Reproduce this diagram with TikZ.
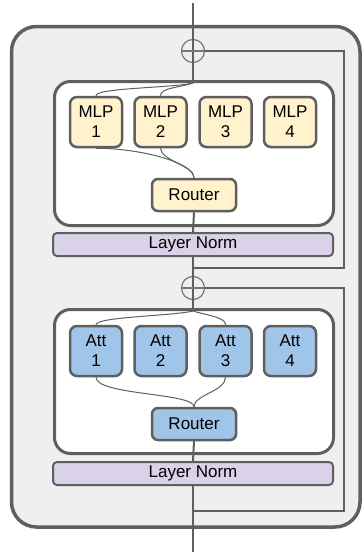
\documentclass[tikz,border=0pt]{standalone}
\usepackage{fontspec}
\setmainfont{Liberation Sans}
\usetikzlibrary{calc}
\definecolor{edge}{HTML}{5F5F5F}
\definecolor{bg}{HTML}{EFEFEF}
\definecolor{mlp}{HTML}{FFF2CC}
\definecolor{att}{HTML}{9FC5E8}
\definecolor{ln}{HTML}{D9D2E9}
\begin{document}
\begin{tikzpicture}[x=1pt,y=-1pt,
  font=\fontsize{17}{20}\selectfont,
  outerbox/.style={draw=edge, fill=bg, line width=3.5pt, rounded corners=25pt, minimum width=348.5pt, minimum height=500.5pt, inner sep=0pt},
  innerbox/.style={draw=edge, fill=white, line width=3pt, rounded corners=16pt, minimum width=279pt, minimum height=144pt, inner sep=0pt},
  expert/.style={draw=edge, line width=2.5pt, rounded corners=7pt, minimum width=52pt, minimum height=50pt, align=center, inner sep=0pt},
  routerbox/.style={draw=edge, line width=2.5pt, rounded corners=6pt, minimum width=84pt, minimum height=32pt, inner sep=0pt},
  lnorm/.style={draw=edge, fill=ln, line width=2pt, rounded corners=4pt, minimum width=280pt, minimum height=23pt, inner sep=0pt},
  addop/.style={circle, draw=edge!85, line width=1.2pt, minimum size=23pt, inner sep=0pt},
  mainline/.style={draw=edge, line width=2pt},
  thinline/.style={draw=edge, line width=1pt},
]
\useasboundingbox (0,0) rectangle (363,554);
\node[outerbox] (block) at (185.75,276.75) {};
% coordinates
\coordinate (top) at (193,3);
\coordinate (bot) at (193,552);
\coordinate (rail) at (344,0);
\coordinate (j1) at (193,83);
\coordinate (j2) at (193,311);
\coordinate (s1) at (193,268);
\coordinate (s2) at (193,511);
% boxes
\node[innerbox] (moe1) at (194,153.5) {};
\node[innerbox] (moe2) at (194,381.5) {};
\node[addop] (o1) at (193,51) {};
\node[addop] (o2) at (193,288) {};
\node[lnorm] (ln1) at (193,244.5) {Layer Norm};
\node[lnorm] (ln2) at (193,473.5) {Layer Norm};
% skip connections
\draw[mainline] (s1) -- (s1 -| rail) -- (o1 -| rail) -- (o1.east);
\draw[mainline] (s2) -- (s2 -| rail) -- (o2 -| rail) -- (o2.east);
% main line
\draw[mainline] (top) -- (o1.south) -- (j1);
\draw[mainline] (ln1.south) -- (o2.south) -- (j2);
\draw[mainline] (ln2.south) -- (bot);
\draw[line width=1.3pt, draw=edge!85] (o1.west) -- (o1.east);
\draw[line width=1.3pt, draw=edge!85] (o2.west) -- (o2.east);
% experts
\node[expert, fill=mlp] (m1) at (96,122) {MLP\\1};
\node[expert, fill=mlp] (m2) at (160.5,122) {MLP\\2};
\node[expert, fill=mlp] (m3) at (225.5,122) {MLP\\3};
\node[expert, fill=mlp] (m4) at (290,122) {MLP\\4};
\node[routerbox, fill=mlp] (r1) at (194,195) {Router};
\node[expert, fill=att] (a1) at (96,351) {Att\\1};
\node[expert, fill=att] (a2) at (160.5,351) {Att\\2};
\node[expert, fill=att] (a3) at (225.5,351) {Att\\3};
\node[expert, fill=att] (a4) at (290,351) {Att\\4};
\node[routerbox, fill=att] (r2) at (194,424) {Router};
% router connections
\draw[mainline] (r1.south) -- (ln1.north);
\draw[mainline] (r2.south) -- (ln2.north);
\draw[thinline] (j1) .. controls +(-20,5) and +(0,-8) .. (m1.north);
\draw[thinline] (j1) .. controls +(-15,5) and +(0,-8) .. (m2.north);
\draw[thinline] (m1.south) .. controls +(45,0) and +(0,-15) .. (r1.north);
\draw[thinline] (m2.south) .. controls +(0,12) and +(0,-12) .. (r1.north);
\draw[thinline] (j2) .. controls +(-20,5) and +(0,-8) .. (a1.north);
\draw[thinline] (j2) .. controls +(12,4) and +(0,-8) .. (a3.north);
\draw[thinline] (a1.south) .. controls +(0,18) and +(0,-14) .. (r2.north);
\draw[thinline] (a3.south) .. controls +(0,14) and +(0,-12) .. (r2.north);
\end{tikzpicture}
\end{document}
